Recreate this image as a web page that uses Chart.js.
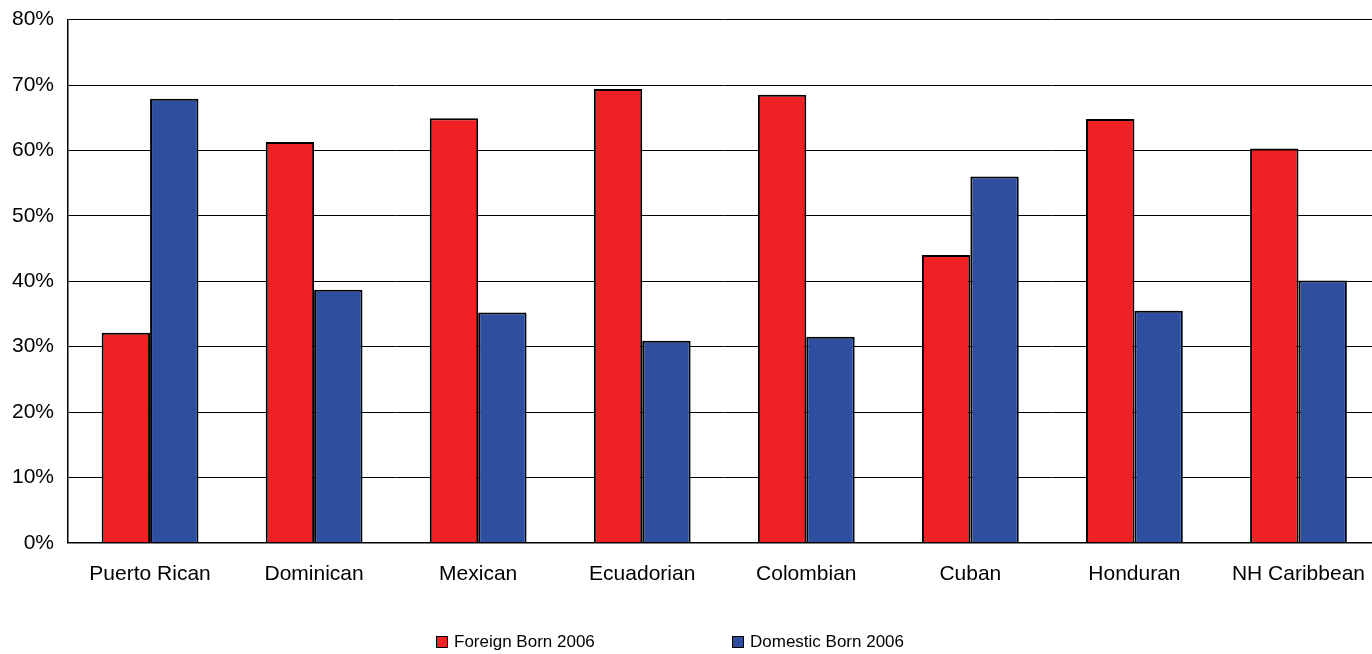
<!DOCTYPE html>
<html>
<head>
<meta charset="utf-8">
<script src="https://cdn.jsdelivr.net/npm/chart.js@4/dist/chart.umd.min.js"></script>
<style>
    html, body { margin: 0; padding: 0; background: #fff; overflow: hidden; }
    #wrap { position: relative; width: 1372px; height: 654px; overflow: hidden; }
    #chart { position: absolute; left: -12px; top: -7px; }
    #legend { position: absolute; top: 632px; left: 0; width: 1372px; height: 20px; }
    .lg-item { position: absolute; top: 0; font: 17px "Liberation Sans", Arial, sans-serif; color: #000; white-space: nowrap; }
    .lg-box { display: inline-block; width: 10px; height: 10px; border: 1.5px solid #000; margin-right: 6px; vertical-align: -1px; }
</style>
</head>
<body>
<div id="wrap">
    <canvas id="chart" width="1396" height="661"></canvas>
    <div id="legend"></div>
</div>
<script>
const categories = ['Puerto Rican', 'Dominican', 'Mexican', 'Ecuadorian', 'Colombian', 'Cuban', 'Honduran', 'NH Caribbean'];
const foreignBorn = [32.1, 61.3, 64.9, 69.4, 68.5, 44.0, 64.8, 60.3];
const domesticBorn = [67.9, 38.7, 35.2, 30.9, 31.5, 56.0, 35.5, 40.1];
const seriesLabels = ['Foreign Born 2006', 'Domestic Born 2006'];
const yTicks = [0, 10, 20, 30, 40, 50, 60, 70, 80];

const font = { family: '"Liberation Sans", Arial, sans-serif', size: 21 };

const chart = new Chart(document.getElementById('chart').getContext('2d'), {
    type: 'bar',
    data: {
        labels: categories,
        datasets: [
            {
                label: seriesLabels[0],
                data: foreignBorn,
                backgroundColor: '#ee2224',
                borderColor: '#000',
                borderWidth: 2,
                categoryPercentage: 0.59,
                barPercentage: 1.0
            },
            {
                label: seriesLabels[1],
                data: domesticBorn,
                backgroundColor: '#2e4fa0',
                borderColor: '#000',
                borderWidth: 2,
                categoryPercentage: 0.59,
                barPercentage: 1.0
            }
        ]
    },
    options: {
        responsive: false,
        animation: false,
        layout: {
            padding: { left: 10, top: 1, right: 0, bottom: 48 }
        },
        plugins: {
            legend: { display: false },
            tooltip: { enabled: false }
        },
        scales: {
            x: {
                grid: { display: false, drawTicks: false },
                border: { display: true, color: '#000', width: 1.5 },
                ticks: { color: '#000', font: font, padding: 19, maxRotation: 0 }
            },
            y: {
                min: yTicks[0],
                max: yTicks[yTicks.length - 1],
                afterBuildTicks: function (axis) {
                    axis.ticks = yTicks.map(function (v) { return { value: v }; });
                },
                grid: { color: '#000', lineWidth: 1, drawTicks: false },
                border: { display: true, color: '#000', width: 1.5 },
                ticks: {
                    color: '#000',
                    font: font,
                    padding: 14,
                    callback: function (v) { return v + '%'; }
                }
            }
        }
    }
});

// legend below the chart
const legendPos = [436, 732];
const $legend = document.getElementById('legend');
chart.data.datasets.forEach(function (ds, i) {
    const item = document.createElement('div');
    item.className = 'lg-item';
    item.style.left = legendPos[i] + 'px';
    item.innerHTML = '<span class="lg-box" style="background:' + ds.backgroundColor + '"></span>' + ds.label;
    $legend.appendChild(item);
});
</script>
</body>
</html>
